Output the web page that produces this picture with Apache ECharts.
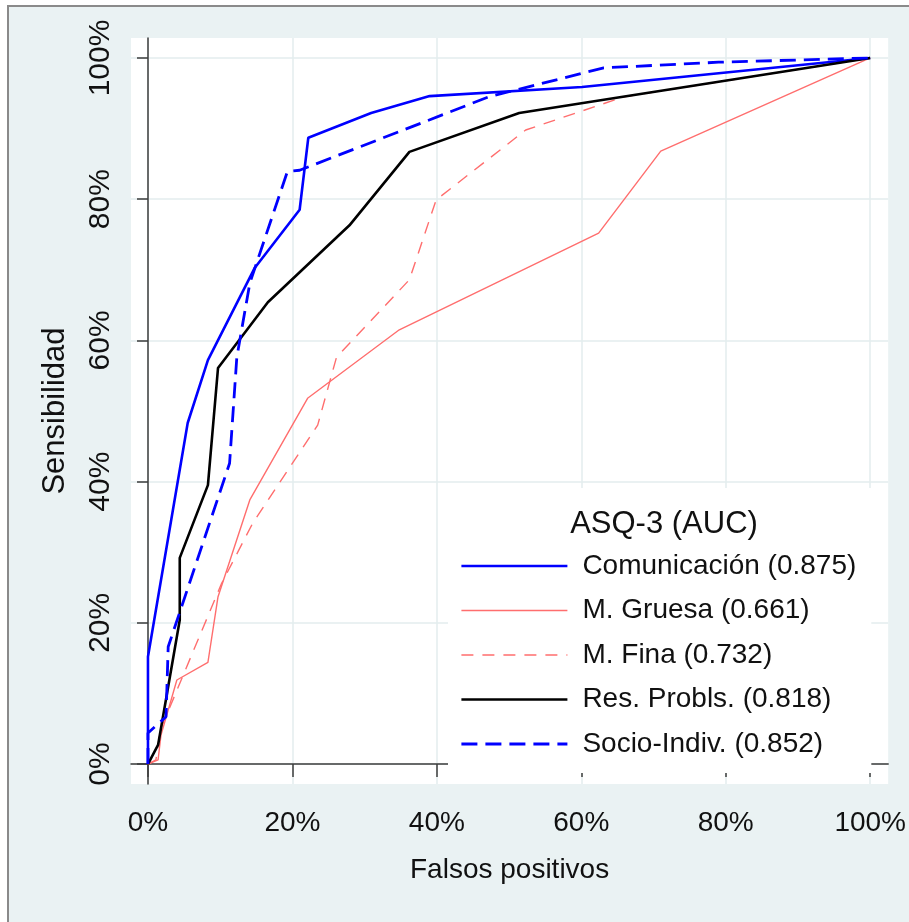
<!DOCTYPE html>
<html>
<head>
<meta charset="utf-8">
<script src="https://cdn.jsdelivr.net/npm/echarts@6/dist/echarts.min.js"></script>
<style>
html,body{margin:0;padding:0;background:#fff;}
#chart{width:909px;height:922px;}
</style>
</head>
<body>
<div id="chart"></div>
<script>
// ---- data (percent false positives, percent sensitivity) ----
const fpComunicacion = [0, 0, 5.5, 8.3, 14.8, 21.0, 22.2, 30.9, 39.0, 60.1, 100];
const seComunicacion = [0, 15.2, 48.3, 57.2, 70.3, 78.5, 88.7, 92.2, 94.6, 95.9, 100];

const fpGruesa = [0, 1.4, 1.8, 4.0, 8.3, 9.7, 14.1, 22.1, 34.8, 62.4, 71.0, 100];
const seGruesa = [0, 0.6, 4.1, 11.9, 14.4, 23.7, 37.4, 51.8, 61.5, 75.2, 86.8, 100];

const fpFina = [0, 1.1, 1.7, 10.2, 14.5, 23.5, 26.1, 36.2, 39.9, 52.3, 65.9, 100];
const seFina = [0, 0.6, 4.8, 25.6, 34.1, 48.0, 57.6, 68.6, 79.9, 89.8, 94.5, 100];

const fpProbls = [0, 1.4, 4.4, 4.4, 8.3, 9.7, 16.6, 27.9, 36.2, 51.4, 100];
const seProbls = [0, 2.7, 20.4, 29.2, 39.5, 56.1, 65.4, 76.3, 86.7, 92.2, 100];

const fpSocio = [0, 0, 2.5, 2.8, 11.3, 12.3, 14.1, 19.3, 21.0, 47.2, 63.1, 79.0, 100];
const seSocio = [0, 4.4, 6.7, 16.6, 42.6, 57.6, 68.1, 83.9, 84.1, 94.5, 98.6, 99.4, 100];

const seriesNames = ['Comunicación (0.875)', 'M. Gruesa (0.661)', 'M. Fina (0.732)', 'Res. Probls. (0.818)', 'Socio-Indiv. (0.852)'];
const tickValues = [0, 20, 40, 60, 80, 100];
const tickLabels = ['0%', '20%', '40%', '60%', '80%', '100%'];
const legendTitle = 'ASQ-3 (AUC)';
const xTitle = 'Falsos positivos';
const yTitle = 'Sensibilidad';

function zip(xs, ys) { return xs.map((x, i) => [x, ys[i]]); }
function fmt(v) { const i = tickValues.indexOf(Math.round(v)); return i >= 0 ? tickLabels[i] : ''; }

const FONT = "'Liberation Sans', Arial, Helvetica, sans-serif";
const BLUE = '#0000ff', SALMON = '#ff6e6e', BLACK = '#000000';
const AXIS = '#3c3c3c', GRIDC = '#e3ecee';

const chart = echarts.init(document.getElementById('chart'), null, {renderer: 'canvas'});

function mkSeries(name, xs, ys, color, width, type) {
  return {
    name: name, type: 'line', data: zip(xs, ys), symbol: 'none', showSymbol: false,
    lineStyle: {color: color, width: width, type: type},
    itemStyle: {color: color}, silent: true, animation: false
  };
}

const option = {
  animation: false,
  backgroundColor: '#eaf2f3',
  textStyle: {fontFamily: FONT},
  grid: {left: 131, right: 19, top: 38, bottom: 138, show: true, backgroundColor: '#ffffff', borderWidth: 0},
  xAxis: {
    type: 'value', min: -2.35, max: 102.49,
    name: xTitle, nameLocation: 'middle', nameGap: 72,
    nameTextStyle: {fontSize: 28, color: '#111', fontFamily: FONT},
    axisLine: {show: true, lineStyle: {color: AXIS, width: 1.5}},
    axisTick: {show: true, length: 13, lineStyle: {color: AXIS, width: 1.5}, customValues: tickValues},
    axisLabel: {fontSize: 28, color: '#111', margin: 25, formatter: fmt, customValues: tickValues, fontFamily: FONT},
    splitLine: {show: true, lineStyle: {color: GRIDC, width: 1.5}}
  },
  yAxis: {
    type: 'value', min: -2.83, max: 102.83,
    name: yTitle, nameLocation: 'middle', nameGap: 60, nameRotate: 90,
    nameTextStyle: {fontSize: 31, color: '#111', fontFamily: FONT},
    axisLine: {show: true, lineStyle: {color: AXIS, width: 1.5}},
    axisTick: {show: true, length: 11, lineStyle: {color: AXIS, width: 1.5}, customValues: tickValues},
    axisLabel: {fontSize: 30, color: '#111', margin: 15, rotate: 90, formatter: fmt, customValues: tickValues, fontFamily: FONT},
    splitLine: {show: true, lineStyle: {color: GRIDC, width: 1.5}}
  },
  legend: {
    data: seriesNames, orient: 'vertical', left: 448, top: 488,
    backgroundColor: '#ffffff', padding: [63, 15, 14, 12],
    itemWidth: 106, itemHeight: 14, itemGap: 14.5,
    lineStyle: {width: 'inherit'},
    itemStyle: {color: 'rgba(0,0,0,0)', borderWidth: 0, opacity: 0},
    textStyle: {fontSize: 28, color: '#111', lineHeight: 30, padding: [0, 0, 0, 10], fontFamily: FONT},
    selectedMode: false
  },
  graphic: [
    {type: 'rect', z: 100, silent: true, shape: {x: 0, y: 0, width: 909, height: 5}, style: {fill: '#ffffff'}},
    {type: 'rect', z: 100, silent: true, shape: {x: 0, y: 0, width: 7, height: 922}, style: {fill: '#ffffff'}},
    {type: 'line', z: 101, silent: true, shape: {x1: 7, y1: 6, x2: 909, y2: 6}, style: {stroke: '#8a8a8a', lineWidth: 2}},
    {type: 'line', z: 101, silent: true, shape: {x1: 8, y1: 6, x2: 8, y2: 922}, style: {stroke: '#8a8a8a', lineWidth: 2}},
    {type: 'text', z: 100, silent: true, x: 664, y: 524,
      style: {text: legendTitle, fontSize: 31, fontFamily: FONT, fill: '#111', align: 'center', verticalAlign: 'middle'}}
  ],
  series: [
    mkSeries(seriesNames[0], fpComunicacion, seComunicacion, BLUE, 2.6, 'solid'),
    mkSeries(seriesNames[1], fpGruesa, seGruesa, SALMON, 1.4, 'solid'),
    mkSeries(seriesNames[2], fpFina, seFina, SALMON, 1.4, [12, 9]),
    mkSeries(seriesNames[3], fpProbls, seProbls, BLACK, 2.6, 'solid'),
    mkSeries(seriesNames[4], fpSocio, seSocio, BLUE, 2.8, [16, 8])
  ]
};
chart.setOption(option);
</script>
</body>
</html>
